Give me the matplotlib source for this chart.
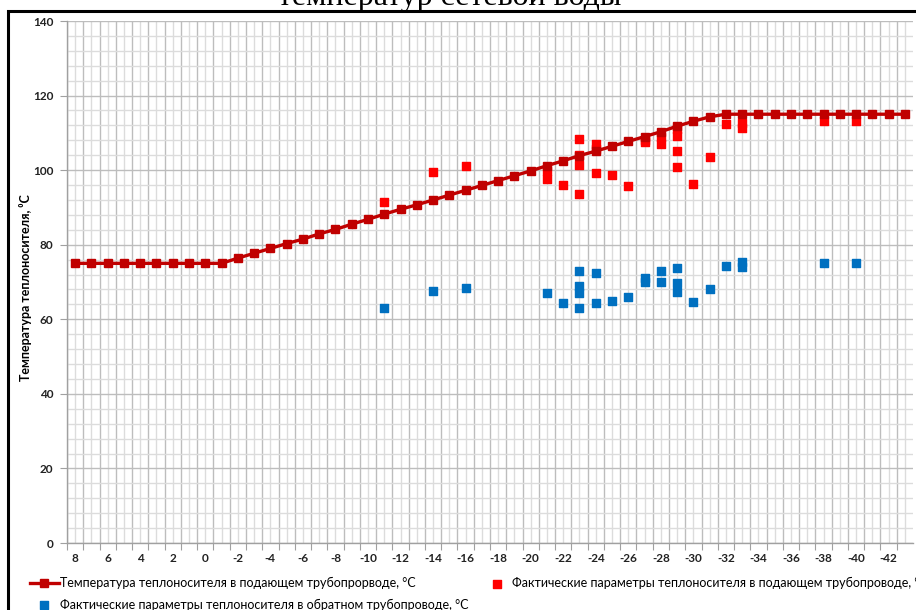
import matplotlib
matplotlib.use("Agg")
import matplotlib.pyplot as plt
from matplotlib.patches import Rectangle
from matplotlib.ticker import FixedLocator, NullFormatter, FixedFormatter

plt.rcParams['axes.unicode_minus'] = False
plt.rcParams['font.family'] = ['Lato', 'DejaVu Sans']

# Outdoor air temperature, °C (category axis)
outdoor_t = [8, 7, 6, 5, 4, 3, 2, 1, 0, -1, -2, -3, -4, -5, -6, -7, -8, -9, -10,
             -11, -12, -13, -14, -15, -16, -17, -18, -19, -20, -21, -22, -23, -24,
             -25, -26, -27, -28, -29, -30, -31, -32, -33, -34, -35, -36, -37, -38,
             -39, -40, -41, -42, -43]

# Scheduled supply temperature
supply_schedule = [75, 75, 75, 75, 75, 75, 75, 75, 75, 75,
                   76.4, 77.7, 79.0, 80.3, 81.5, 82.9, 84.1, 85.5, 86.8,
                   88.2, 89.5, 90.7, 92.0, 93.3, 94.6, 95.9, 97.2, 98.5, 99.8,
                   101.2, 102.5, 103.9, 105.1, 106.4, 107.7, 109.0, 110.3,
                   111.8, 113.1, 114.3, 115, 115, 115, 115, 115, 115, 115,
                   115, 115, 115, 115, 115]

# Measured supply temperatures
supply_fact_t = [-11, -14, -16, -21, -21, -22, -23, -23, -23, -23, -24, -24, -24,
                 -25, -26, -27, -27, -28, -28, -29, -29, -29, -29, -30, -31, -32,
                 -33, -33, -38, -40]
supply_fact_v = [91.5, 99.6, 101.0, 99.8, 97.5, 95.9, 108.3, 104.1, 101.4, 93.6,
                 107.0, 105.6, 99.2, 98.7, 95.8, 108.2, 107.5, 109.0, 107.0, 111.0,
                 109.2, 105.2, 100.9, 96.3, 103.5, 112.3, 112.6, 111.4, 113.3, 113.3]

# Measured return temperatures
return_fact_t = [-11, -14, -16, -21, -22, -23, -23, -23, -23, -24, -24, -25, -26,
                 -27, -27, -28, -28, -29, -29, -29, -30, -31, -32, -33, -33, -38, -40]
return_fact_v = [63.0, 67.7, 68.4, 67.0, 64.5, 73.0, 68.8, 67.1, 62.9, 72.3, 64.3,
                 65.0, 65.9, 71.0, 70.0, 73.0, 70.1, 73.7, 69.8, 67.2, 64.6, 68.2,
                 74.3, 75.4, 74.0, 75.2, 75.0]

y_ticks = [0, 20, 40, 60, 80, 100, 120, 140]

W, H = 916, 610
fig = plt.figure(figsize=(W / 100, H / 100), dpi=100)

# chart frame (cropped at the right and bottom)
fig.add_artist(Rectangle((8 / W, -0.2), 1.2, 1.2 - 11 / H,
                         transform=fig.transFigure, fill=False,
                         edgecolor='black', linewidth=2.2))
fig.text(450 / W, 1 - 4.5 / H, 'температур сетевой воды', ha='center', va='baseline',
         family='Liberation Serif', fontsize=23, color='black')

ax = fig.add_axes([67 / W, 1 - 543 / H, (913 - 67) / W, (543 - 21) / H])
ax.set_xlim(8.5, -43.5)
ax.set_ylim(0, 140)

# vertical grid: category boundaries (major), category centres (minor)
ax.xaxis.set_major_locator(FixedLocator([t + 0.5 for t in outdoor_t]))
ax.xaxis.set_major_formatter(NullFormatter())
ax.xaxis.set_minor_locator(FixedLocator(outdoor_t))
ax.xaxis.set_minor_formatter(FixedFormatter([str(t) if t % 2 == 0 else '' for t in outdoor_t]))
ax.yaxis.set_major_locator(FixedLocator(y_ticks))
ax.yaxis.set_minor_locator(FixedLocator([v for v in range(0, 141, 4) if v % 20]))

ax.grid(which='major', color='#bdbdbd', linewidth=1.0)
ax.grid(which='minor', color='#dcdcdc', linewidth=1.0)
ax.set_axisbelow(True)

ax.tick_params(axis='x', which='major', length=5, color='#a0a0a0', direction='out')
ax.tick_params(axis='x', which='minor', length=0, pad=7, labelsize=8.5,
               labelcolor='#222222')
ax.tick_params(axis='y', which='major', length=5, color='#a0a0a0', labelsize=8.5,
               labelcolor='#222222', pad=5)
ax.tick_params(axis='y', which='minor', length=0)
for lbl in ax.get_xticklabels(minor=True) + ax.get_yticklabels():
    lbl.set_fontweight('bold')

for s in ['top', 'right']:
    ax.spines[s].set_visible(False)
for s in ['left', 'bottom']:
    ax.spines[s].set_color('#a0a0a0')
    ax.spines[s].set_linewidth(1.0)

ax.set_ylabel('Температура теплоносителя, ⁰С', fontsize=9, fontweight='bold')
ax.yaxis.set_label_coords(-35 / (913 - 67), 0.489)

line, = ax.plot(outdoor_t, supply_schedule, color='#c00000', linewidth=2.4,
                marker='s', markersize=5.5, zorder=4,
                label='Температура теплоносителя в подающем трубопрорводе, °С')
ret = ax.scatter(return_fact_t, return_fact_v, marker='s', s=36, color='#0070c0',
                 zorder=3, label='Фактические параметры теплоносителя в обратном трубопроводе, °С')
sup = ax.scatter(supply_fact_t, supply_fact_v, marker='s', s=40, color='#ff0000',
                 zorder=3, label='Фактические параметры теплоносителя в подающем трубопроводе, °С')

leg = fig.legend(handles=[line, ret, sup], ncol=2, loc='upper left',
                 bbox_to_anchor=(25 / W, 1 - 572 / H), frameon=False,
                 fontsize=9, handlelength=2.3, handletextpad=0.1,
                 columnspacing=1.1, labelspacing=0.75, borderaxespad=0)

fig.savefig('out.png', dpi=100)
